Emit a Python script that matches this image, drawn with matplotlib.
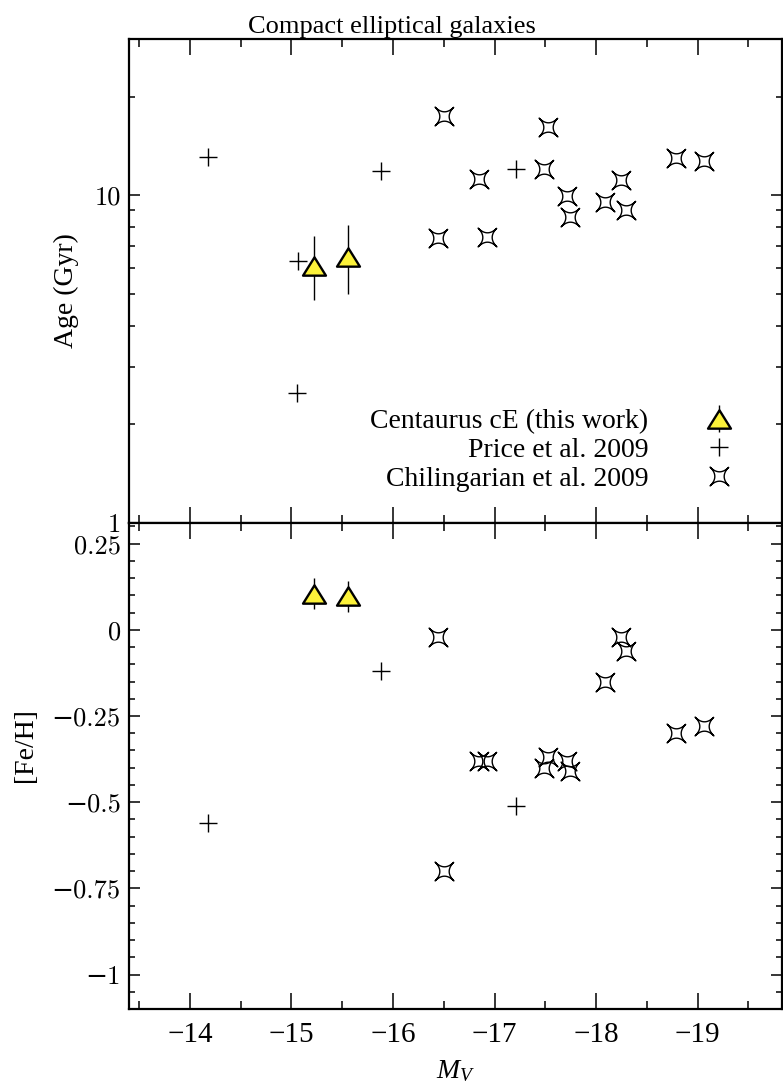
import numpy as np
import matplotlib
matplotlib.use("Agg")
import matplotlib.pyplot as plt
from matplotlib.path import Path
from matplotlib.ticker import MultipleLocator, LogLocator, FixedLocator, FixedFormatter, NullFormatter

plt.rcParams['font.family'] = ['Liberation Serif', 'DejaVu Serif']
plt.rcParams['mathtext.fontset'] = 'custom'
plt.rcParams['mathtext.it'] = 'Liberation Serif:italic'
plt.rcParams['mathtext.rm'] = 'Liberation Serif'

# Centaurus cE (this work)
cen_mv = [-15.22, -15.56]
cen_age = [6.1, 6.5]
cen_age_lo = [1.3, 1.5]
cen_age_hi = [1.4, 1.6]
cen_feh = [0.105, 0.098]
cen_feh_err = [0.045, 0.045]

# Price et al. 2009
price_mv = [-14.18, -15.88, -17.21, -15.06, -15.05]
price_age = [13.1, 11.9, 12.0, 6.3, 2.5]
price_feh = [-0.56, -0.12, -0.51, np.nan, np.nan]

# Chilingarian et al. 2009
chil_mv = [-16.50, -16.44, -16.85, -16.93, -17.53, -17.49, -17.71, -17.74,
           -18.09, -18.24, -18.29, -18.79, -19.06]
chil_age = [17.5, 7.4, 11.2, 7.45, 16.2, 12.0, 9.95, 8.6,
            9.55, 11.1, 9.0, 12.97, 12.7]
chil_feh = [-0.70, -0.02, -0.38, -0.38, -0.37, -0.40, -0.38, -0.41,
            -0.15, -0.02, -0.06, -0.30, -0.28]

feh_ticks = [-1, -0.75, -0.5, -0.25, 0, 0.25]
feh_labels = ['\u22121', '\u22120.75', '\u22120.5', '\u22120.25', '0', '0.25']

# marker shapes: concave four-point star and a flat triangle
t = np.linspace(0, 2 * np.pi, 161)
p = 4.0
sx = np.sign(np.cos(t)) * np.abs(np.cos(t))**p
sy = np.sign(np.sin(t)) * np.abs(np.sin(t))**p
c, s = np.cos(np.pi / 4), np.sin(np.pi / 4)
star = Path(np.column_stack([c * sx - s * sy, s * sx + c * sy]))
tri = Path([(-1, -0.8), (1, -0.8), (0, 0.8), (-1, -0.8)], closed=True)

fig = plt.figure(figsize=(7.83, 10.88), dpi=100)
W, H = 783, 1088
ax1 = fig.add_axes([129 / W, (H - 523) / H, 653 / W, 484 / H])
ax2 = fig.add_axes([129 / W, (H - 1009) / H, 653 / W, 486 / H])

fs = 20
yellow = '#fcf23a'

def draw(ax, yc, yerr, yp, ych):
    e = ax.errorbar(cen_mv, yc, yerr=yerr, fmt='none', ecolor='black', elinewidth=1.0,
                    capsize=0, zorder=2)
    m, = ax.plot(cen_mv, yc, linestyle='none', marker=tri, markersize=16.5,
                 markerfacecolor=yellow, markeredgecolor='black', markeredgewidth=1.7, zorder=3)
    pl, = ax.plot(price_mv, yp, linestyle='none', marker='+', markersize=13,
                  markeredgewidth=1.0, color='black', zorder=3)
    st, = ax.plot(chil_mv, ych, linestyle='none', marker=star, markersize=13.5,
                  markerfacecolor='none', markeredgecolor='black', markeredgewidth=1.0, zorder=3)
    return (e, m), pl, st

h1 = draw(ax1, cen_age, [cen_age_lo, cen_age_hi], price_age, chil_age)
draw(ax2, cen_feh, cen_feh_err, price_feh, chil_feh)

for ax in (ax1, ax2):
    ax.set_xlim(-13.4, -19.83)
    ax.xaxis.set_major_locator(MultipleLocator(1))
    ax.xaxis.set_minor_locator(MultipleLocator(0.5))
    ax.tick_params(which='both', direction='in', top=True, right=True, width=1.1)
    ax.tick_params(axis='x', which='major', length=11.5, pad=9, labelsize=21)
    ax.tick_params(axis='x', which='minor', length=6)
    ax.tick_params(axis='y', which='major', length=8, pad=6, labelsize=19)
    ax.tick_params(axis='y', which='minor', length=4)
    for sp in ax.spines.values():
        sp.set_linewidth(1.6)

ax1.set_yscale('log')
ax1.set_ylim(1, 30)
ax1.yaxis.set_major_locator(FixedLocator([1, 10]))
ax1.yaxis.set_major_formatter(FixedFormatter(['1', '10']))
ax1.yaxis.set_minor_locator(LogLocator(base=10, subs=np.arange(2, 10)))
ax1.yaxis.set_minor_formatter(NullFormatter())
ax1.tick_params(axis='x', labelbottom=False)
ax1.set_ylabel('Age (Gyr)', fontsize=fs)
ax1.yaxis.set_label_coords(-0.076, 0.48)

ax2.set_ylim(-1.1, 0.31)
ax2.yaxis.set_major_locator(FixedLocator(feh_ticks))
ax2.yaxis.set_major_formatter(FixedFormatter(feh_labels))
ax2.yaxis.set_minor_locator(MultipleLocator(0.05))
ax2.set_ylabel('[Fe/H]', fontsize=fs)
ax2.yaxis.set_label_coords(-0.14, 0.543)
ax2.set_xlabel('$M_V$', fontsize=fs, labelpad=8)

for lab in ax1.get_yticklabels() + ax2.get_yticklabels():
    lab.set_family(['cmr10', 'DejaVu Serif'])

fig.text(0.5, 1 - 33 / H, 'Compact elliptical galaxies', fontsize=19,
         ha='center', va='baseline')

ax1.legend(h1, ['Centaurus cE (this work)', 'Price et al. 2009', 'Chilingarian et al. 2009'],
           loc='lower right', bbox_to_anchor=(0.972, 0.03), frameon=False, markerfirst=False,
           fontsize=fs, handletextpad=1.55, labelspacing=0.12, borderaxespad=0.2)

fig.savefig('out.png', dpi=100)
